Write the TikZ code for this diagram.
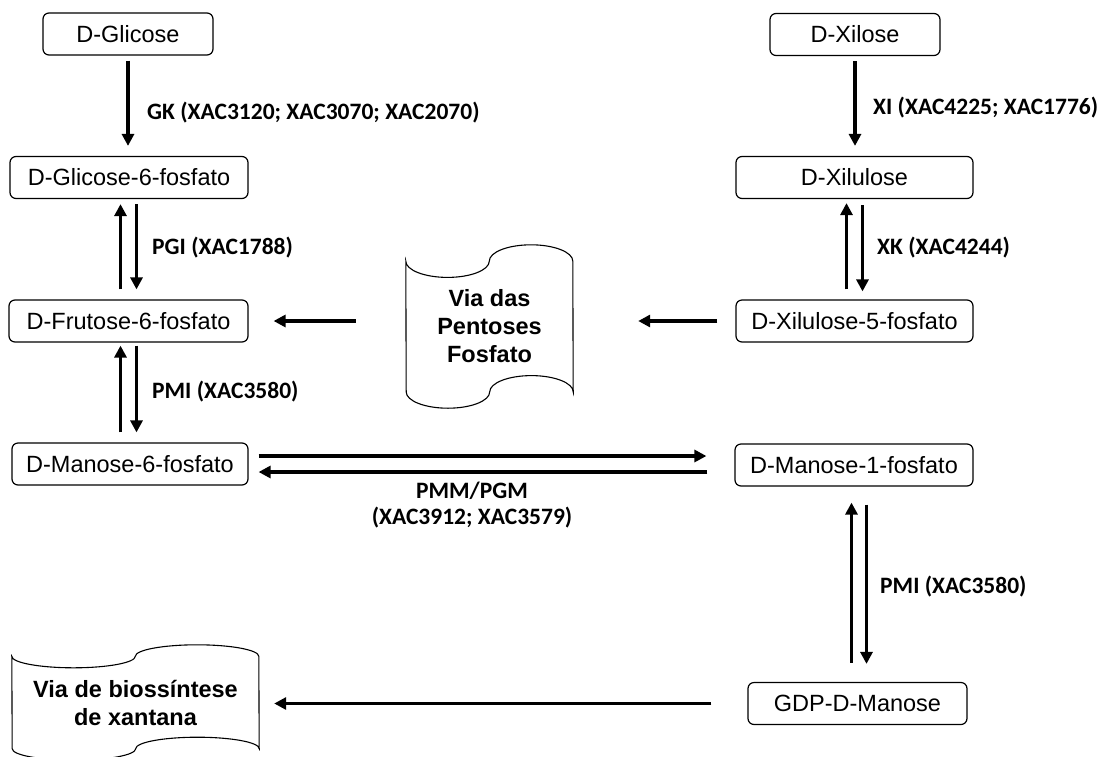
\documentclass[tikz,border=0pt]{standalone}
\usepackage{fontspec}
\setmainfont{Liberation Sans}
\newfontfamily\rotulofonte{Carlito}
\usetikzlibrary{arrows.meta,positioning}

\tikzset{
  caixa/.style={rectangle,rounded corners=6pt,draw=black,line width=1.2pt,
    minimum height=42pt,inner sep=0pt,font=\fontsize{23.5}{28}\selectfont},
  fita/.style={rectangle,align=center,inner sep=0pt,
    font=\fontsize{23.5}{28}\selectfont\bfseries},
  contorno/.style={draw=black,line width=1.1pt},
  seta/.style={line width=3.2pt,-{Triangle[length=12pt,width=12pt]}},
  rotulo/.style={inner sep=0pt,font=\fontsize{23.5}{26}\selectfont\rotulofonte\bfseries},
}
% fita perfurada em volta de um no: #1 no, #2 = largura/4, #3 = altura/10
\newcommand{\fitacontorno}[3]{%
  \draw[contorno] ([yshift=-#3]#1.north west)
    arc[start angle=180,end angle=360,x radius=#2,y radius=#3]
    arc[start angle=180,end angle=0,x radius=#2,y radius=#3]
    -- ([yshift=#3]#1.south east)
    arc[start angle=0,end angle=180,x radius=#2,y radius=#3]
    arc[start angle=0,end angle=-180,x radius=#2,y radius=#3] -- cycle;}

\begin{document}
\begin{tikzpicture}[x=1pt,y=-1pt]
\useasboundingbox (0,0) rectangle (1106,756);
% coluna da glicose
\node[caixa,minimum width=170pt] (gli) at (128,34) {D-Glicose};
\node[caixa,minimum width=238pt] (g6p) at (129,177.5) {D-Glicose-6-fosfato};
\node[caixa,minimum width=239pt] (f6p) at (128.5,321) {D-Frutose-6-fosfato};
\node[caixa,minimum width=236pt] (m6p) at (130,464) {D-Manose-6-fosfato};
% coluna da xilose
\node[caixa,minimum width=170pt] (xil) at (855,34.5) {D-Xilose};
\node[caixa,minimum width=237pt] (xlu) at (854.5,177.5) {D-Xilulose};
\node[caixa,minimum width=237pt] (x5p) at (854.5,321) {D-Xilulose-5-fosfato};
\node[caixa,minimum width=238pt] (m1p) at (854,465) {D-Manose-1-fosfato};
\node[caixa,minimum width=219pt] (gdp) at (857.5,703.5) {GDP-D-Manose};
% vias
\node[fita,minimum width=167pt,minimum height=163pt] (pfp) at (489.5,326.5) {Via das\\Pentoses\\Fosfato};
\node[fita,minimum width=247pt,minimum height=115pt] (xan) at (135.5,702.5) {Via de biossíntese\\de xantana};
\fitacontorno{pfp}{41.75pt}{16.3pt}
\fitacontorno{xan}{61.75pt}{11.5pt}

% setas
\draw[seta,shorten <=5pt,shorten >=10pt] (gli.south) -- (gli.south |- g6p.north);
\draw[seta,shorten <=10pt,shorten >=5pt] ([xshift=-8pt]f6p.north) -- ([xshift=-8pt]f6p.north |- g6p.south);
\draw[seta,shorten <=5pt,shorten >=10pt] ([xshift=8pt]f6p.north |- g6p.south) -- ([xshift=8pt]f6p.north);
\draw[seta,shorten <=10pt,shorten >=3pt] ([xshift=-8pt]f6p.south |- m6p.north) -- ([xshift=-8pt]f6p.south);
\draw[seta,shorten <=3pt,shorten >=10pt] ([xshift=8pt]f6p.south) -- ([xshift=8pt]f6p.south |- m6p.north);
\draw[seta,shorten <=10pt,shorten >=28pt] ([yshift=8pt]m6p.east) -- ([yshift=8pt]m6p.east -| m1p.west);
\draw[seta,shorten <=27pt,shorten >=10pt] ([yshift=-8pt]m6p.east -| m1p.west) -- ([yshift=-8pt]m6p.east);
\draw[seta,shorten <=50pt,shorten >=25pt] (pfp.west |- f6p.east) -- (f6p.east);
\draw[seta,shorten <=18pt,shorten >=65pt] (x5p.west) -- (x5p.west -| pfp.east);
\draw[seta,shorten <=5pt,shorten >=10pt] (xil.south) -- (xil.south |- xlu.north);
\draw[seta,shorten <=10pt,shorten >=4pt] ([xshift=-8pt]x5p.north) -- ([xshift=-8pt]x5p.north |- xlu.south);
\draw[seta,shorten <=6pt,shorten >=8pt] ([xshift=8pt]x5p.north |- xlu.south) -- ([xshift=8pt]x5p.north);
\draw[seta,shorten <=19pt,shorten >=16pt] ([xshift=-6pt]gdp.north) -- ([xshift=-6pt]gdp.north |- m1p.south);
\draw[seta,shorten <=18pt,shorten >=18pt] ([xshift=9pt]gdp.north |- m1p.south) -- ([xshift=9pt]gdp.north);
\draw[seta,shorten <=36pt,shorten >=15pt] (gdp.west) -- (gdp.west -| xan.east);

% enzimas
\node[rotulo,anchor=west] (lgk) at (147,113) {GK (XAC3120; XAC3070; XAC2070)};
\node[rotulo,anchor=west] (lxi) at (873,108) {XI (XAC4225; XAC1776)};
\node[rotulo,anchor=west] (lpgi) at (152,248) {PGI (XAC1788)};
\node[rotulo,anchor=west] (lxk) at (877,248) {XK (XAC4244)};
\node[rotulo,anchor=west] (lpmi) at (152,392) {PMI (XAC3580)};
\node[rotulo,anchor=west] (lpmi2) at (880,587) {PMI (XAC3580)};
\node[rotulo,align=center] (lpmm) at (472,505) {PMM/PGM\\(XAC3912; XAC3579)};
\end{tikzpicture}
\end{document}
